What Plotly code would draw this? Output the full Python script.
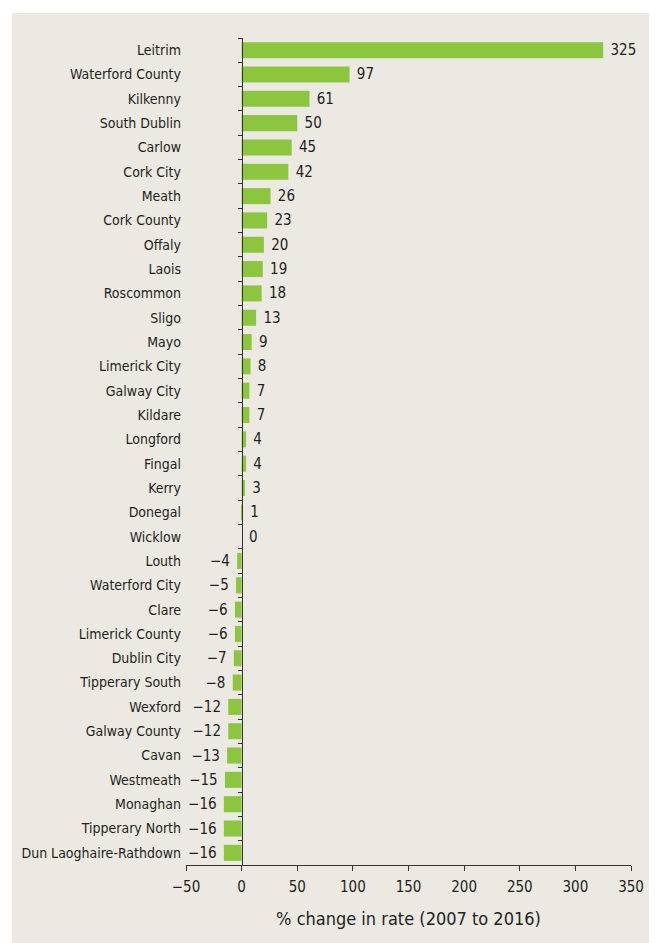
import plotly.graph_objects as go

categories = ["Leitrim", "Waterford County", "Kilkenny", "South Dublin", "Carlow", "Cork City",
              "Meath", "Cork County", "Offaly", "Laois", "Roscommon", "Sligo", "Mayo",
              "Limerick City", "Galway City", "Kildare", "Longford", "Fingal", "Kerry",
              "Donegal", "Wicklow", "Louth", "Waterford City", "Clare", "Limerick County",
              "Dublin City", "Tipperary South", "Wexford", "Galway County", "Cavan",
              "Westmeath", "Monaghan", "Tipperary North", "Dun Laoghaire-Rathdown"]
values = [325, 97, 61, 50, 45, 42, 26, 23, 20, 19, 18, 13, 9, 8, 7, 7, 4, 4, 3, 1, 0,
          -4, -5, -6, -6, -7, -8, -12, -12, -13, -15, -16, -16, -16]
x_ticks = [-50, 0, 50, 100, 150, 200, 250, 300, 350]

FONT = "Liberation Sans Narrow, Arial Narrow, DejaVu Sans Condensed, sans-serif"
TXT = "#231f20"
GREEN = "#8cc63f"
BG = "#ece9e3"
NB = "\u00a0"

labels = [(NB + str(v)) if v >= 0 else (str(v).replace("-", "\u2212") + NB) for v in values]

fig = go.Figure()
fig.add_trace(go.Bar(
    x=values, y=categories, orientation="h",
    marker=dict(color=GREEN, line=dict(width=0)),
    text=labels, textposition="outside", cliponaxis=False,
    textfont=dict(family=FONT, size=15, color=TXT),
    constraintext="none",
    hoverinfo="x+y", showlegend=False,
))
# invisible trace to carry the zero-line axis
fig.add_trace(go.Scatter(
    x=[0] * len(categories), y=categories, yaxis="y2", mode="markers",
    marker=dict(opacity=0), hoverinfo="skip", showlegend=False,
))

xmin, xmax = x_ticks[0], x_ticks[-1]
zero_pos = (0 - xmin) / (xmax - xmin)
yrange = [len(categories) - 0.5, -0.5]

W, H = 649, 935
L, R, T, B = 178, 26, 30, 78
pw, ph = W - L - R, H - T - B

fig.update_layout(
    width=W, height=H,
    margin=dict(l=L, r=R, t=T, b=B),
    paper_bgcolor="white", plot_bgcolor=BG,
    bargap=0.34,
    font=dict(family=FONT, color=TXT, size=15),
    xaxis=dict(
        range=[xmin, xmax], tickvals=x_ticks, ticktext=[str(t).replace("-", "\u2212") for t in x_ticks],
        showgrid=False, zeroline=False, automargin=False,
        showline=True, linecolor="#333333", linewidth=1,
        ticks="outside", ticklen=5, tickcolor="#333333",
        ticklabelstandoff=3,
        tickfont=dict(size=15, family=FONT, color=TXT),
        title=dict(text="% change in rate (2007 to 2016)", font=dict(size=18, family=FONT, color=TXT), standoff=17),
        fixedrange=True,
    ),
    yaxis=dict(
        type="category", categoryorder="array", categoryarray=categories,
        range=yrange, autorange=False, automargin=False,
        showgrid=False, zeroline=False, showline=False,
        ticks="", tickfont=dict(size=14, family=FONT, color=TXT),
        ticklabelstandoff=4,
    ),
    yaxis2=dict(
        type="category", categoryorder="array", categoryarray=categories,
        range=yrange, autorange=False, automargin=False,
        overlaying="y", anchor="free", position=zero_pos, side="left",
        showgrid=False, zeroline=False, showline=True, linecolor="#333333", linewidth=1,
        ticks="outside", tickson="boundaries", ticklen=4, tickwidth=1, tickcolor="#333333",
        showticklabels=False,
    ),
    shapes=[dict(type="rect", xref="paper", yref="paper",
                 x0=(4 - L) / pw, x1=(W + 10 - L) / pw,
                 y0=-(B + 10) / ph, y1=1 + (T - 5) / ph,
                 fillcolor=BG, line=dict(width=0), layer="below")],
)

fig.write_html("out.html")
